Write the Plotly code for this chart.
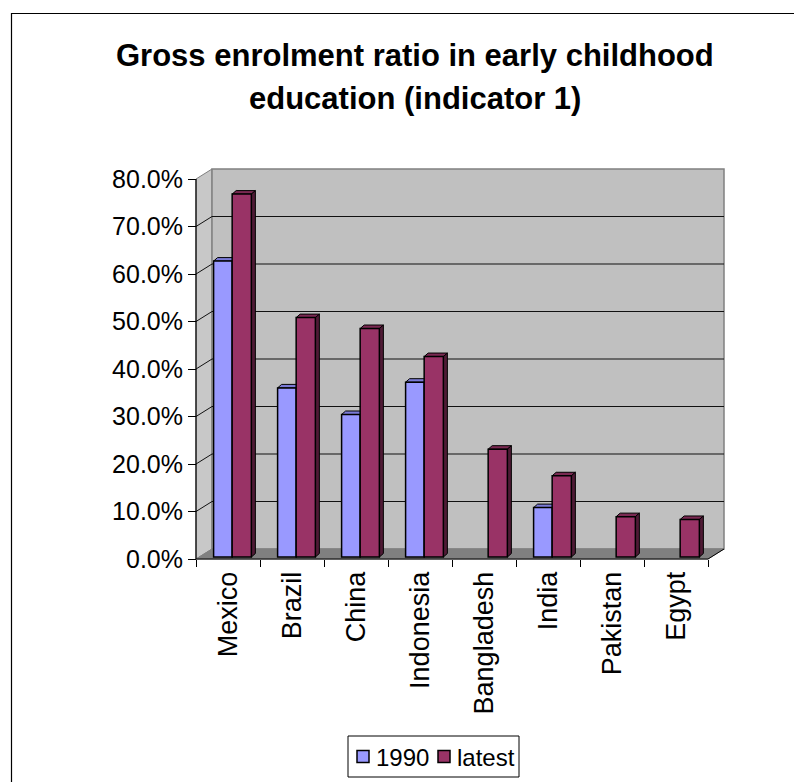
import plotly.graph_objects as go

# ---------------- data ----------------
categories = ["Mexico", "Brazil", "China", "Indonesia", "Bangladesh", "India", "Pakistan", "Egypt"]
series_names = ["1990", "latest"]
values_1990 = [62.3, 35.6, 30.0, 36.8, None, 10.4, None, None]      # percent
values_latest = [76.4, 50.4, 48.1, 42.2, 22.7, 17.1, 8.5, 7.9]       # percent
y_tick_values = [0, 10, 20, 30, 40, 50, 60, 70, 80]                  # percent

# ---------------- geometry ----------------
W, H = 794, 782
X0PX, CATW = 196, 64          # front-left corner (px), px per category
Y0PX, YS = 559, 475           # zero line (px), px per unit (1.0 = 100 %)
dX = 16 / CATW                # depth offset of back wall (data units)
dY = 10 / YS
PAD = 4
N = len(categories)
YMAX = 0.8
xr = [-0.5 - PAD / CATW, N - 0.5 + dX + PAD / CATW]
yr = [-PAD / YS, YMAX + dY + PAD / YS]
ml = X0PX - PAD
mr = W - (X0PX + (xr[1] + 0.5) * CATW)
mt = Y0PX - yr[1] * YS
mb = H - (Y0PX + PAD)
plot_w = W - ml - mr
plot_h = H - mt - mb
plot_bottom = H - mb


def px_x(p):
    return (p - ml) / plot_w


def px_y(p):
    return (plot_bottom - p) / plot_h


FONT = "Liberation Sans, Arial, Helvetica, sans-serif"
C1990 = ("#9999FF", "#7A7AD6", "#5C5CA8")      # front, top, side
CLAT = ("#993366", "#7A2952", "#4F1A35")

BASE = 2 / YS                 # bars sit slightly behind the front edge
OFF = {"1990": (-0.225, 0.29), "latest": (0.065, 0.30)}
TOPD = (4 / CATW, 3.5 / YS)   # bar depth

fig = go.Figure()

series = {"1990": values_1990, "latest": values_latest}
colors = {"1990": C1990, "latest": CLAT}
for name in series_names:
    off, w = OFF[name]
    fig.add_trace(go.Bar(
        x=list(range(N)),
        y=[None if v is None else v / 100 for v in series[name]],
        base=BASE, offset=off, width=w, name=name, showlegend=False,
        marker=dict(color=colors[name][0], line=dict(color="black", width=1.5)),
    ))

shapes = []
# walls and floor
shapes.append(dict(type="path", xref="x", yref="y", layer="below",
                   path=f"M-0.5,0 L{-0.5+dX},{dY} L{-0.5+dX},{YMAX+dY} L-0.5,{YMAX} Z",
                   fillcolor="#C8C8C8", line=dict(color="#808080", width=1)))
shapes.append(dict(type="rect", xref="x", yref="y", layer="below",
                   x0=-0.5 + dX, x1=N - 0.5 + dX, y0=dY, y1=YMAX + dY,
                   fillcolor="#C0C0C0", line=dict(color="#808080", width=1.5)))
shapes.append(dict(type="path", xref="x", yref="y", layer="below",
                   path=f"M-0.5,0 L{-0.5+dX},{dY} L{N-0.5+dX},{dY} L{N-0.5},0 Z",
                   fillcolor="#808080", line=dict(color="#808080", width=1)))
# gridlines on side wall and back wall
for tv in y_tick_values[1:-1]:
    v = tv / 100
    shapes.append(dict(type="path", xref="x", yref="y", layer="below",
                       path=f"M-0.5,{v} L{-0.5+dX},{v+dY} L{N-0.5+dX},{v+dY}",
                       line=dict(color="#111111", width=1)))
# front edges
shapes.append(dict(type="line", xref="x", yref="y", layer="below",
                   x0=-0.5, x1=N - 0.5, y0=0, y1=0, line=dict(color="black", width=1.2)))
shapes.append(dict(type="line", xref="x", yref="y", layer="below",
                   x0=N - 0.5, x1=N - 0.5 + dX, y0=0, y1=dY, line=dict(color="black", width=1)))
shapes.append(dict(type="line", xref="x", yref="y", layer="below",
                   x0=-0.5, x1=-0.5, y0=0, y1=YMAX, line=dict(color="black", width=1.2)))

# bar top and side faces
ddx, ddy = TOPD
for name in series_names:
    off, w = OFF[name]
    for i, v in enumerate(series[name]):
        if v is None:
            continue
        x0 = i + off
        x1 = x0 + w
        yb = BASE
        yt = BASE + v / 100
        shapes.append(dict(type="path", xref="x", yref="y", layer="below",
                           path=f"M{x0},{yt} L{x0+ddx},{yt+ddy} L{x1+ddx},{yt+ddy} L{x1},{yt} Z",
                           fillcolor=colors[name][1], line=dict(color="black", width=1)))
        shapes.append(dict(type="path", xref="x", yref="y", layer="below",
                           path=f"M{x1},{yb} L{x1+ddx},{yb+ddy} L{x1+ddx},{yt+ddy} L{x1},{yt} Z",
                           fillcolor=colors[name][2], line=dict(color="black", width=1)))

# chart border
shapes.append(dict(type="rect", xref="paper", yref="paper", layer="above",
                   x0=px_x(11.5), x1=px_x(W + 20), y0=px_y(H + 20), y1=px_y(13.5),
                   line=dict(color="black", width=1.2), fillcolor="rgba(0,0,0,0)"))

annotations = [
    dict(text="<b>Gross enrolment ratio in early childhood</b>", xref="paper", yref="paper",
         x=px_x(415), y=px_y(56), xanchor="center", yanchor="middle", showarrow=False,
         font=dict(family=FONT, size=31, color="black")),
    dict(text="<b>education (indicator 1)</b>", xref="paper", yref="paper",
         x=px_x(415), y=px_y(98), xanchor="center", yanchor="middle", showarrow=False,
         font=dict(family=FONT, size=31, color="black")),
]

# legend (box, swatches, labels)
LEG_BOX = (348, 736, 519, 777)
LEG_ITEMS = [(357, 374), (438, 455)]     # swatch left px, text left px
SW = 12
shapes.append(dict(type="rect", xref="paper", yref="paper", layer="above",
                   x0=px_x(LEG_BOX[0]), x1=px_x(LEG_BOX[2]), y0=px_y(LEG_BOX[3]), y1=px_y(LEG_BOX[1]),
                   line=dict(color="black", width=1), fillcolor="white"))
ymid = (LEG_BOX[1] + LEG_BOX[3]) / 2
for name, (sx, tx) in zip(series_names, LEG_ITEMS):
    shapes.append(dict(type="rect", xref="paper", yref="paper", layer="above",
                       x0=px_x(sx), x1=px_x(sx + SW), y0=px_y(ymid + SW / 2), y1=px_y(ymid - SW / 2),
                       line=dict(color="black", width=1.5), fillcolor=colors[name][0]))
    annotations.append(dict(text=name, xref="paper", yref="paper", x=px_x(tx), y=px_y(ymid + 1),
                            xanchor="left", yanchor="middle", showarrow=False,
                            font=dict(family=FONT, size=24, color="black")))

fig.update_layout(
    width=W, height=H,
    margin=dict(l=ml, r=mr, t=mt, b=mb, pad=0, autoexpand=False),
    paper_bgcolor="white", plot_bgcolor="rgba(0,0,0,0)",
    barmode="overlay",
    showlegend=False,
    shapes=shapes,
    annotations=annotations,
    font=dict(family=FONT, color="black"),
    xaxis=dict(range=xr, anchor="free", position=PAD / plot_h, showgrid=False, zeroline=False,
               showline=False, tickmode="array", tickvals=list(range(N)), ticktext=categories,
               ticks="outside", ticklen=1, tickcolor="rgba(0,0,0,0)", tickangle=-90,
               tickfont=dict(family=FONT, size=27, color="black"),
               minor=dict(tickmode="array", tickvals=[i - 0.5 for i in range(N + 1)],
                          ticks="outside", ticklen=7, tickcolor="black", tickwidth=1)),
    yaxis=dict(range=yr, anchor="free", position=PAD / plot_w, showgrid=False, zeroline=False,
               showline=False, tickmode="array", tickvals=[v / 100 for v in y_tick_values],
               ticktext=[f"{v:.1f}%" for v in y_tick_values],
               ticks="outside", ticklen=8, tickcolor="black", tickwidth=1,
               tickfont=dict(family=FONT, size=25, color="black")),
)

fig.write_html("out.html")
